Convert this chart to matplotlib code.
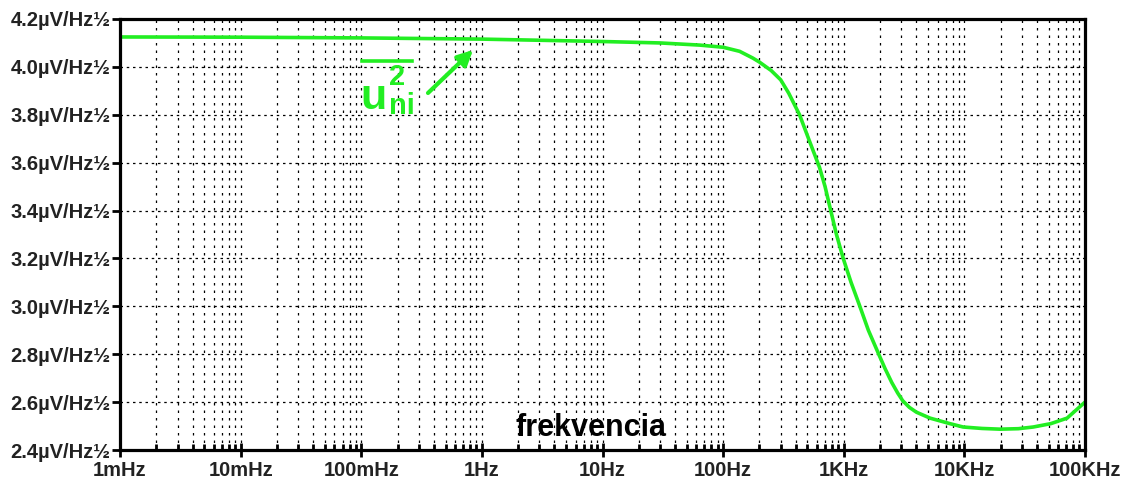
import numpy as np
import matplotlib
matplotlib.use("Agg")
from matplotlib import pyplot as plt
from matplotlib.ticker import LogLocator, FixedLocator, NullFormatter

# noise spectral density (Hz, uV/sqrt(Hz))
freq = [1e-3, 1e-2, 1e-1, 1, 10, 30, 64, 100, 137, 176, 200, 250, 300, 350,
        430, 520, 630, 700, 780, 870, 990, 1150, 1360, 1600, 1950, 2200, 2500,
        2800, 3080, 3500, 4000, 5200, 7600, 9770, 14000, 19800, 28000, 37200,
        52000, 71000, 100000]
noise = [4.125, 4.124, 4.121, 4.116, 4.106, 4.100, 4.091, 4.082, 4.065, 4.037,
         4.020, 3.985, 3.946, 3.890, 3.800, 3.690, 3.580, 3.500, 3.400, 3.300,
         3.200, 3.100, 3.000, 2.900, 2.800, 2.740, 2.682, 2.638, 2.606, 2.578,
         2.558, 2.533, 2.510, 2.496, 2.490, 2.487, 2.489, 2.496, 2.510, 2.533,
         2.600]

x_ticks = [1e-3, 1e-2, 1e-1, 1, 10, 100, 1e3, 1e4, 1e5]
x_labels = ["1mHz", "10mHz", "100mHz", "1Hz", "10Hz", "100Hz", "1KHz", "10KHz", "100KHz"]
y_ticks = [2.4, 2.6, 2.8, 3.0, 3.2, 3.4, 3.6, 3.8, 4.0, 4.2]
y_labels = [f"{v:.1f}µV/Hz½" for v in y_ticks]

green = "#22ee22"
plt.rcParams["font.family"] = ["Liberation Sans", "DejaVu Sans"]

fig = plt.figure(figsize=(11.29, 4.82), dpi=100)
ax = fig.add_axes([120 / 1129, 32 / 482, 965 / 1129, 431 / 482])

ax.plot(freq, noise, color=green, lw=2.6, solid_capstyle="round",
        solid_joinstyle="round")
ax.set_xscale("log")
ax.set_xlim(1e-3, 1e5)
ax.set_ylim(2.4, 4.2)

ax.xaxis.set_major_locator(FixedLocator(x_ticks))
ax.set_xticklabels(x_labels)
ax.xaxis.set_minor_locator(LogLocator(base=10, subs=np.arange(2, 10), numticks=20))
ax.xaxis.set_minor_formatter(NullFormatter())
ax.set_yticks(y_ticks)
ax.set_yticklabels(y_labels)

ax.grid(True, which="both", axis="x", color="black", ls=(0, (2, 4)), lw=0.9)
ax.grid(True, which="major", axis="y", color="black", ls=(0, (2, 3)), lw=0.9)

for s in ax.spines.values():
    s.set_linewidth(2.3)
ax.tick_params(axis="both", which="major", labelsize=14.5, width=2, length=6,
               colors="black", pad=1)
ax.tick_params(axis="x", which="major", direction="inout", length=10, pad=3)
ax.tick_params(axis="x", which="minor", direction="in", length=4, width=2)
for lab in ax.get_xticklabels() + ax.get_yticklabels():
    lab.set_fontweight("bold")
    lab.set_color("#222222")

ax.text(0.488, 0.051, "frekvencia", transform=ax.transAxes, ha="center",
        va="center", fontsize=22, fontweight="bold", color="black")

# annotation label: overline u^2 with subscript ni, and an arrow to the curve
def px(x, y):
    return x / 1129, 1 - y / 482

fig.text(*px(360, 109), "u", fontsize=31, fontweight="bold", color=green,
         va="baseline", ha="left")
fig.text(*px(389, 85), "2", fontsize=21, fontweight="bold", color=green,
         va="baseline", ha="left")
fig.text(*px(389, 114), "ni", fontsize=21, fontweight="bold", color=green,
         va="baseline", ha="left")
fig.add_artist(plt.Line2D([362 / 1129, 412 / 1129], [1 - 61 / 482, 1 - 61 / 482],
                          color=green, lw=2.6, transform=fig.transFigure))
ax.annotate("", xy=(473, 482 - 50), xytext=(428, 482 - 93),
            xycoords="figure pixels", textcoords="figure pixels",
            arrowprops=dict(arrowstyle="-|>,head_length=0.9,head_width=0.45",
                            color=green, lw=3, shrinkA=0, shrinkB=0))

fig.savefig("out.png", dpi=100)
